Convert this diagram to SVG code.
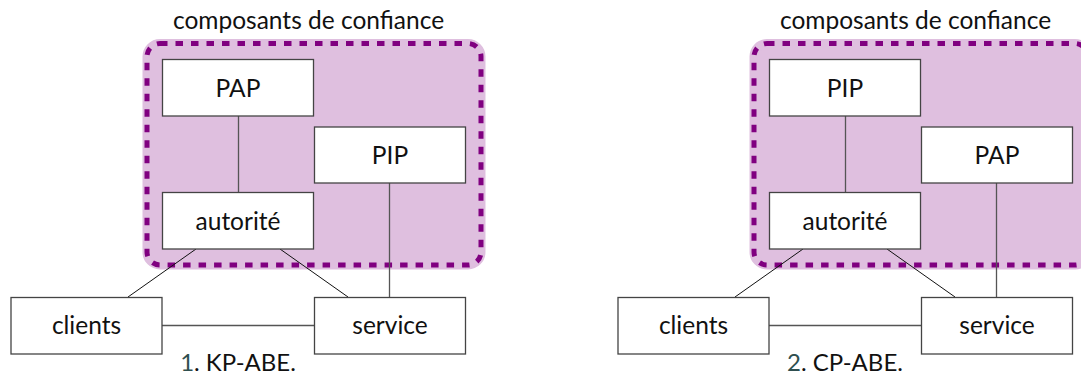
<svg xmlns="http://www.w3.org/2000/svg" width="1081" height="376" viewBox="0 0 1081 376">
<style>
.t{font-family:Lato,"Open Sans","DejaVu Sans",sans-serif;font-size:24.5px;fill:#111;text-anchor:middle}
.cap{font-family:Lato,"Open Sans","DejaVu Sans",sans-serif;font-size:24px;fill:#111;text-anchor:middle}
.num{fill:#2F4F4F}
.box{fill:#fff;stroke:#444;stroke-width:1.3}
.zone{fill:#DFBFDF;stroke:#DFBFDF;stroke-width:9}
.dash{fill:none;stroke:#800080;stroke-width:5;stroke-dasharray:7.5 8}
.g{stroke:#555;stroke-width:1.3;fill:none}
.k{stroke:#111;stroke-width:1;fill:none}
</style>
<g id="panel1">
<g id="zone1">
<rect class="zone" x="147" y="43.5" width="334" height="221.5" rx="13"/>
<rect class="dash" x="147" y="43.5" width="334" height="221.5" rx="13"/>
<text class="t" x="308.5" y="28.5">composants de confiance</text>
</g>
<g id="connectors1">
<line class="g" x1="238.5" y1="116" x2="238.5" y2="192"/>
<line class="g" x1="389.5" y1="183" x2="389.5" y2="297"/>
<line class="g" x1="162" y1="325.5" x2="314" y2="325.5"/>
<line class="k" x1="196" y1="249" x2="128" y2="297"/>
<line class="k" x1="280" y1="249" x2="348" y2="297"/>
</g>
<g id="pap1"><rect class="box" x="162.5" y="59.5" width="151" height="56.5"/><text class="t" x="238" y="96.5">PAP</text></g>
<g id="pip1"><rect class="box" x="314.5" y="127" width="151" height="56"/><text class="t" x="390" y="163.5">PIP</text></g>
<g id="autorite1"><rect class="box" x="162.5" y="192.5" width="151" height="56.5"/><text class="t" x="238" y="229.5">autorité</text></g>
<g id="clients1"><rect class="box" x="11" y="297.5" width="151" height="56.5"/><text class="t" x="86.5" y="334">clients</text></g>
<g id="service1"><rect class="box" x="314.5" y="297.5" width="151" height="56.5"/><text class="t" x="390" y="334">service</text></g>
<text class="cap" x="238" y="371"><tspan class="num">1</tspan>. KP-ABE.</text>
</g>
<g id="panel2">
<g id="zone2">
<rect class="zone" x="754" y="43.5" width="334" height="221.5" rx="13"/>
<rect class="dash" x="754" y="43.5" width="334" height="221.5" rx="13"/>
<text class="t" x="915.5" y="28.5">composants de confiance</text>
</g>
<g id="connectors2">
<line class="g" x1="845.5" y1="116" x2="845.5" y2="192"/>
<line class="g" x1="996.5" y1="183" x2="996.5" y2="297"/>
<line class="g" x1="769" y1="325.5" x2="921" y2="325.5"/>
<line class="k" x1="803" y1="249" x2="735" y2="297"/>
<line class="k" x1="887" y1="249" x2="955" y2="297"/>
</g>
<g id="pip2"><rect class="box" x="769.5" y="59.5" width="151" height="56.5"/><text class="t" x="845" y="96.5">PIP</text></g>
<g id="pap2"><rect class="box" x="921.5" y="127" width="151" height="56"/><text class="t" x="997" y="163.5">PAP</text></g>
<g id="autorite2"><rect class="box" x="769.5" y="192.5" width="151" height="56.5"/><text class="t" x="845" y="229.5">autorité</text></g>
<g id="clients2"><rect class="box" x="618" y="297.5" width="151" height="56.5"/><text class="t" x="693.5" y="334">clients</text></g>
<g id="service2"><rect class="box" x="921.5" y="297.5" width="151" height="56.5"/><text class="t" x="997" y="334">service</text></g>
<text class="cap" x="845" y="371"><tspan class="num">2</tspan>. CP-ABE.</text>
</g>
</svg>
